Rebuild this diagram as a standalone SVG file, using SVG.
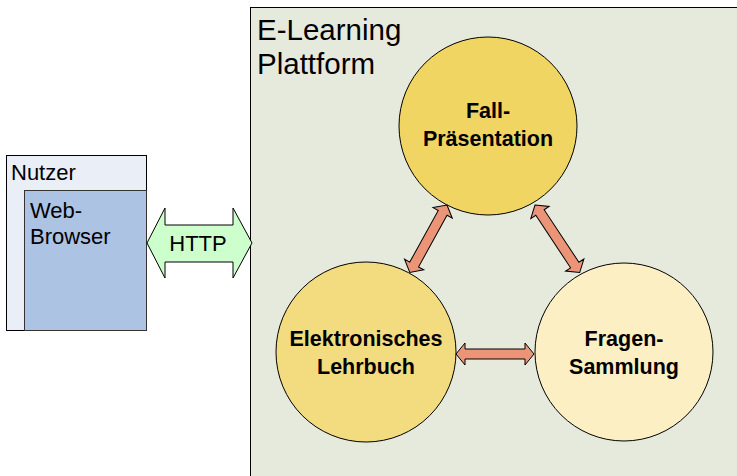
<svg xmlns="http://www.w3.org/2000/svg" width="737" height="476" viewBox="0 0 737 476">
<style>
text{font-family:"Liberation Sans",Arial,sans-serif;fill:#000}
.lbl{font-size:22px}
.b{font-size:21.5px;font-weight:bold;text-anchor:middle}
.circ{stroke:#000;stroke-width:1}
.arr{fill:#ec9478;stroke:#000;stroke-width:1}
</style>
<rect width="737" height="476" fill="#fff"/>
<g id="platform">
<rect x="250.5" y="7.5" width="500" height="480" fill="#e6eadc" stroke="#000"/>
<text x="257" y="40" style="font-size:29.5px">E-Learning</text>
<text x="257" y="74" style="font-size:29.5px">Plattform</text>
</g>
<g id="nutzer">
<rect x="6.5" y="155.5" width="140" height="175" fill="#eaeff7" stroke="#000"/>
<text x="11" y="180" class="lbl">Nutzer</text>
</g>
<g id="browser">
<rect x="24.5" y="190.5" width="122" height="140" fill="#adc3e3" stroke="#333"/>
<text x="30" y="218" class="lbl">Web-</text>
<text x="30" y="244" class="lbl">Browser</text>
</g>
<g id="fall">
<circle cx="488" cy="126" r="89" fill="#f0d562" class="circ"/>
<text x="488" y="118" class="b">Fall-</text>
<text x="488" y="146" class="b">Präsentation</text>
</g>
<g id="lehrbuch">
<circle cx="366" cy="352" r="90" fill="#f3db7f" class="circ"/>
<text x="366" y="346" class="b">Elektronisches</text>
<text x="366" y="374" class="b">Lehrbuch</text>
</g>
<g id="fragen">
<circle cx="624" cy="352" r="89" fill="#fbefc3" class="circ"/>
<text x="624" y="346" class="b">Fragen-</text>
<text x="624" y="374" class="b">Sammlung</text>
</g>
<g id="connectors">
<g id="http">
<polygon points="147,243 165,208 165,225 233,225 233,208 252,243 233,278 233,262 165,262 165,278" fill="#ccffcc" stroke="#000"/>
<text x="198" y="251" class="lbl" text-anchor="middle">HTTP</text>
</g>
<polygon class="arr" transform="translate(447,205) rotate(118.9)" points="0,0 9,-11 9,-5 68,-5 68,-11 77,0 68,11 68,5 9,5 9,11"/>
<polygon class="arr" transform="translate(535,205) rotate(56.5)" points="0,0 9,-11 9,-5 72,-5 72,-11 81,0 72,11 72,5 9,5 9,11"/>
<polygon class="arr" transform="translate(456,354)" points="0,0 9,-11 9,-5 69,-5 69,-11 78,0 69,11 69,5 9,5 9,11"/>
</g>
</svg>
